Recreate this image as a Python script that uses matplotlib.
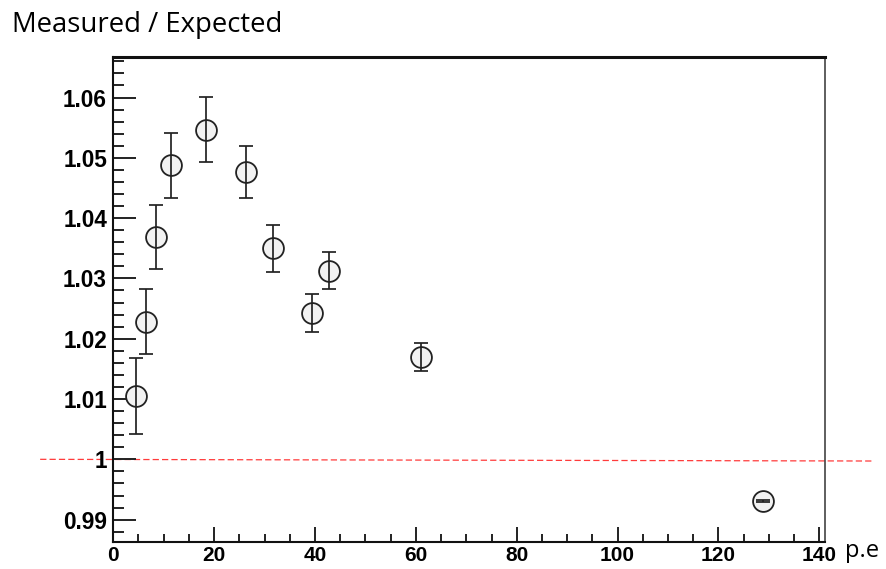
import matplotlib
matplotlib.use("Agg")
import matplotlib.pyplot as plt
from matplotlib.ticker import MultipleLocator

# measured / expected ratio vs number of photo-electrons
pe = [4.6, 6.4, 8.5, 11.4, 18.4, 26.4, 31.7, 39.4, 42.7, 61.0, 128.9]
ratio = [1.0105, 1.0228, 1.0368, 1.0488, 1.0547, 1.0477, 1.0350, 1.0243, 1.0313, 1.0170, 0.9931]
ratio_err = [0.0063, 0.0054, 0.0053, 0.0054, 0.0054, 0.0043, 0.0039, 0.0032, 0.0031, 0.0023, 0.0002]

# reference line at 1 (drawn a bit past the frame, slightly tilted as in the original)
ref_x = [-14.5, 150.4]
ref_y = [1.0, 0.99972]

plt.rcParams['font.family'] = 'Liberation Sans'
plt.rcParams['font.weight'] = 'bold'

fig = plt.figure(figsize=(8.87, 5.69), dpi=100)
ax = fig.add_axes([0.1277, 0.048, 0.8028, 0.8523])

ax.plot(pe, ratio, 'o', ms=15, mfc='#f2f2f2', mec='#222222', mew=1.3, zorder=2)
ax.errorbar(pe, ratio, yerr=ratio_err, fmt='none', ecolor='#222222',
            elinewidth=1.25, capsize=4.8, capthick=1.25, zorder=3)
ax.plot(ref_x, ref_y, color='#ff3b3b', lw=0.9, dashes=(5, 2.5), clip_on=False, zorder=1)

ax.set_xlim(0, 141.2)
ax.set_ylim(0.98634, 1.06677)

ax.xaxis.set_major_locator(MultipleLocator(20))
ax.xaxis.set_minor_locator(MultipleLocator(5))
ax.yaxis.set_major_locator(MultipleLocator(0.01))
ax.yaxis.set_minor_locator(MultipleLocator(0.002))
ax.yaxis.set_major_formatter(plt.FuncFormatter(lambda v, p: ('%g' % round(v, 3))))

ax.tick_params(axis='y', which='major', direction='in', length=16.3, width=1.4,
               color='#222222', pad=4.5, labelsize=16.3)
ax.tick_params(axis='y', which='minor', direction='in', length=8, width=1.4, color='#222222')
ax.tick_params(axis='x', which='major', direction='in', length=10.8, width=1.4,
               color='#222222', pad=3, labelsize=15)
ax.tick_params(axis='x', which='minor', direction='in', length=5.8, width=1.4, color='#222222')

ax.spines['left'].set_linewidth(1.5)
ax.spines['bottom'].set_linewidth(1.5)
ax.spines['top'].set_linewidth(2.2)
ax.spines['right'].set_linewidth(1.1)
ax.spines['right'].set_color('#333333')
ax.spines['left'].set_color('#111111')
ax.spines['bottom'].set_color('#111111')
ax.spines['top'].set_color('#111111')

fig.text(12 / 887, 1 - 32.3 / 569, 'Measured / Expected', fontsize=19.8,
         family='Open Sans', weight='normal', va='baseline', ha='left')
fig.text(845 / 887, 1 - 557 / 569, 'p.e', fontsize=17,
         family='Open Sans', weight='normal', va='baseline', ha='left')

fig.savefig('out.png', dpi=100)
